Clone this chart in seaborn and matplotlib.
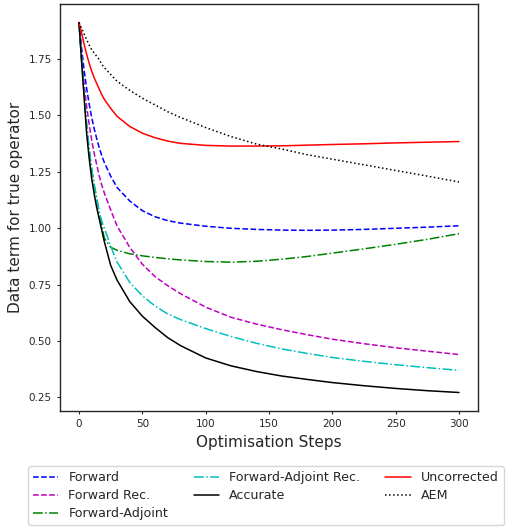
import numpy as np
import pandas as pd
import matplotlib
matplotlib.use("Agg")
import matplotlib.pyplot as plt
import seaborn as sns

# Values
steps = [0, 2, 4, 6, 8, 10, 12, 14, 16, 18, 20, 25, 30, 40, 50, 60, 70, 80,
         100, 120, 140, 160, 180, 200, 225, 250, 275, 300]

forward = [1.91, 1.80, 1.70, 1.62, 1.55, 1.49, 1.44, 1.395, 1.355, 1.32, 1.29, 1.23, 1.18, 1.12,
           1.077, 1.05, 1.033, 1.022, 1.008, 0.999, 0.994, 0.991, 0.99, 0.991, 0.994, 0.999, 1.004, 1.01]
forward_rec = [1.91, 1.76, 1.64, 1.54, 1.46, 1.39, 1.33, 1.28, 1.23, 1.19, 1.155, 1.08, 1.01, 0.915,
               0.84, 0.785, 0.745, 0.71, 0.65, 0.605, 0.575, 0.55, 0.528, 0.508, 0.488, 0.47, 0.455, 0.44]
forward_adj = [1.91, 1.75, 1.60, 1.46, 1.35, 1.26, 1.19, 1.13, 1.07, 1.01, 0.955, 0.915, 0.902, 0.886,
               0.877, 0.87, 0.864, 0.859, 0.852, 0.849, 0.853, 0.862, 0.874, 0.889, 0.908, 0.928, 0.95, 0.975]
forward_adj_rec = [1.91, 1.75, 1.60, 1.46, 1.35, 1.26, 1.19, 1.13, 1.07, 1.03, 1.0, 0.92, 0.85, 0.76,
                   0.70, 0.655, 0.62, 0.595, 0.555, 0.52, 0.49, 0.465, 0.445, 0.427, 0.41, 0.395, 0.382, 0.37]
accurate = [1.91, 1.74, 1.58, 1.42, 1.31, 1.22, 1.15, 1.09, 1.04, 0.99, 0.94, 0.835, 0.77, 0.675,
            0.61, 0.56, 0.515, 0.48, 0.425, 0.39, 0.365, 0.345, 0.33, 0.316, 0.302, 0.29, 0.28, 0.272]
uncorrected = [1.91, 1.865, 1.815, 1.77, 1.73, 1.695, 1.665, 1.64, 1.615, 1.59, 1.57, 1.53, 1.495, 1.45,
               1.42, 1.40, 1.385, 1.375, 1.366, 1.363, 1.363, 1.364, 1.367, 1.37, 1.373, 1.377, 1.38, 1.383]
aem = [1.91, 1.885, 1.86, 1.835, 1.81, 1.79, 1.775, 1.76, 1.745, 1.725, 1.71, 1.68, 1.65, 1.61,
       1.575, 1.545, 1.515, 1.49, 1.445, 1.405, 1.372, 1.35, 1.325, 1.305, 1.28, 1.255, 1.23, 1.204]

labels = ["Forward", "Forward Rec.", "Forward-Adjoint", "Forward-Adjoint Rec.",
          "Accurate", "Uncorrected", "AEM"]
series = [forward, forward_rec, forward_adj, forward_adj_rec, accurate, uncorrected, aem]
colors = ["b", "m", "g", "c", "k", "r", "k"]
styles = ["--", "--", "-.", "-.", "-", "-", ":"]

sns.set_style("ticks")
plt.rcParams.update({
    "xtick.labelsize": 7.5,
    "ytick.labelsize": 7.5,
    "xtick.major.size": 2.5,
    "ytick.major.size": 2.5,
    "axes.linewidth": 1.0,
})

fig = plt.figure(figsize=(5.08, 5.27), dpi=100)
ax = fig.add_axes([60 / 508, 1 - 411 / 527, 418 / 508, 407 / 527])

for name, vals, c, ls in zip(labels, series, colors, styles):
    sns.lineplot(x=steps, y=vals, color=c, linestyle=ls, linewidth=1.1, label=name, ax=ax)

ax.set_xticks([0, 50, 100, 150, 200, 250, 300])
ax.set_yticks([0.25, 0.5, 0.75, 1.0, 1.25, 1.5, 1.75])
ax.set_xlabel("Optimisation Steps", fontsize=11)
ax.set_ylabel("Data term for true operator", fontsize=11)

handles, lbls = ax.get_legend_handles_labels()
ax.get_legend().remove()
fig.legend(handles, lbls, loc="upper left", bbox_to_anchor=(28 / 508, 1 - 466 / 527),
           borderaxespad=0, ncol=3, fontsize=9.1, labelspacing=0.4, columnspacing=2.0,
           frameon=True)

fig.savefig("out.png", dpi=100)
